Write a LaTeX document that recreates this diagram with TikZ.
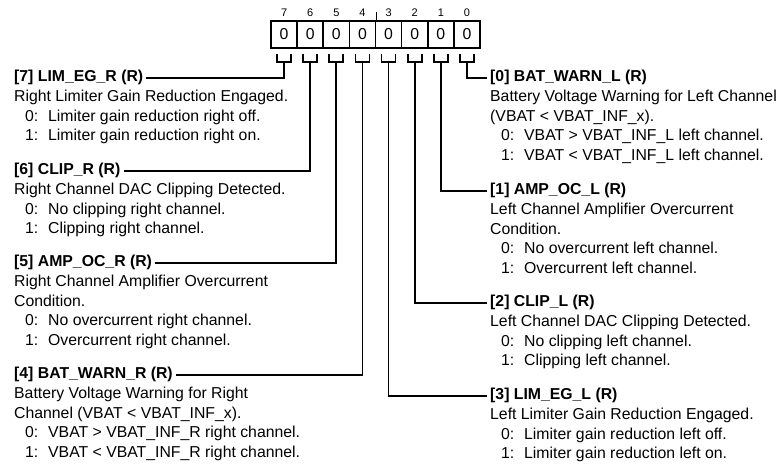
\documentclass[tikz,border=0pt]{standalone}
\usepackage{fontspec}
\setmainfont{Liberation Sans}

\newcommand\regbit[2]{\hspace*{11bp}\makebox[23bp][l]{#1:}#2}

\begin{document}
\begin{tikzpicture}[
  x=1bp, y=-1bp,
  font=\fontsize{15.8bp}{19.5bp}\selectfont,
  cell/.style={
    draw,
    rectangle,
    minimum width=26.125bp,
    minimum height=27bp,
    inner sep=0pt,
    line width=1.6bp,
    label={[bitno]above:#1}
  },
  bitno/.style={
    font=\fontsize{11bp}{13bp}\selectfont,
    inner sep=1bp,
    label distance=2bp
  },
  fieldname/.style={
    font=\fontsize{15.8bp}{19.5bp}\selectfont\bfseries,
    inner xsep=3bp,
    inner ysep=0pt,
    anchor=west
  },
  fielddesc/.style={
    inner sep=0pt,
    align=left,
    anchor=north west
  },
  wire/.style={line width=1.8bp},
  tick/.style={line width=1.2bp}
]
\useasboundingbox (0,0) rectangle (782,468);

% register cells, bit 7 on the left
\node[cell=7] (c7) at (284.06, 34.5) {0};
\node[cell=6] (c6) at (310.19, 34.5) {0};
\node[cell=5] (c5) at (336.31, 34.5) {0};
\node[cell=4] (c4) at (362.44, 34.5) {0};
\node[cell=3] (c3) at (388.56, 34.5) {0};
\node[cell=2] (c2) at (414.69, 34.5) {0};
\node[cell=1] (c1) at (440.81, 34.5) {0};
\node[cell=0] (c0) at (466.94, 34.5) {0};

\draw[tick] (c4.north east) -- ++(0,-8);

% left column
\node[fieldname] (h7) at (11, 78) {\strut[7] LIM\_EG\_R (R)};
\node[fielddesc] (d7) at ([xshift=3bp]h7.south west) {\strut Right Limiter Gain Reduction Engaged.\\
  \regbit{0}{Limiter gain reduction right off.}\\
  \regbit{1}{Limiter gain reduction right on.}};

\node[fieldname] (h6) at (11, 171) {\strut[6] CLIP\_R (R)};
\node[fielddesc] (d6) at ([xshift=3bp]h6.south west) {\strut Right Channel DAC Clipping Detected.\\
  \regbit{0}{No clipping right channel.}\\
  \regbit{1}{Clipping right channel.}};

\node[fieldname] (h5) at (11, 263) {\strut[5] AMP\_OC\_R (R)};
\node[fielddesc] (d5) at ([xshift=3bp]h5.south west) {\strut Right Channel Amplifier Overcurrent\\
  Condition.\\
  \regbit{0}{No overcurrent right channel.}\\
  \regbit{1}{Overcurrent right channel.}};

\node[fieldname] (h4) at (11, 375) {\strut[4] BAT\_WARN\_R (R)};
\node[fielddesc] (d4) at ([xshift=3bp]h4.south west) {\strut Battery Voltage Warning for Right\\
  Channel (VBAT < VBAT\_INF\_x).\\
  \regbit{0}{VBAT > VBAT\_INF\_R right channel.}\\
  \regbit{1}{VBAT < VBAT\_INF\_R right channel.}};

% right column
\node[fieldname] (h0) at (487, 78) {\strut[0] BAT\_WARN\_L (R)};
\node[fielddesc] (d0) at ([xshift=3bp]h0.south west) {\strut Battery Voltage Warning for Left Channel\\
  (VBAT < VBAT\_INF\_x).\\
  \regbit{0}{VBAT > VBAT\_INF\_L left channel.}\\
  \regbit{1}{VBAT < VBAT\_INF\_L left channel.}};

\node[fieldname] (h1) at (487, 191) {\strut[1] AMP\_OC\_L (R)};
\node[fielddesc] (d1) at ([xshift=3bp]h1.south west) {\strut Left Channel Amplifier Overcurrent\\
  Condition.\\
  \regbit{0}{No overcurrent left channel.}\\
  \regbit{1}{Overcurrent left channel.}};

\node[fieldname] (h2) at (487, 303) {\strut[2] CLIP\_L (R)};
\node[fielddesc] (d2) at ([xshift=3bp]h2.south west) {\strut Left Channel DAC Clipping Detected.\\
  \regbit{0}{No clipping left channel.}\\
  \regbit{1}{Clipping left channel.}};

\node[fieldname] (h3) at (487, 396) {\strut[3] LIM\_EG\_L (R)};
\node[fielddesc] (d3) at ([xshift=3bp]h3.south west) {\strut Left Limiter Gain Reduction Engaged.\\
  \regbit{0}{Limiter gain reduction left off.}\\
  \regbit{1}{Limiter gain reduction left on.}};

% brackets under the cells
\draw[wire] ([xshift=-7bp,yshift=-5bp]c7.south) -- ++(0,8) -- ++(14,0) -- ++(0,-8);
\draw[wire] ([xshift=-7bp,yshift=-5bp]c6.south) -- ++(0,8) -- ++(14,0) -- ++(0,-8);
\draw[wire] ([xshift=-7bp,yshift=-5bp]c5.south) -- ++(0,8) -- ++(14,0) -- ++(0,-8);
\draw[wire] ([xshift=-7bp,yshift=-5bp]c4.south) -- ++(0,8) -- ++(14,0) -- ++(0,-8);
\draw[wire] ([xshift=-7bp,yshift=-5bp]c3.south) -- ++(0,8) -- ++(14,0) -- ++(0,-8);
\draw[wire] ([xshift=-7bp,yshift=-5bp]c2.south) -- ++(0,8) -- ++(14,0) -- ++(0,-8);
\draw[wire] ([xshift=-7bp,yshift=-5bp]c1.south) -- ++(0,8) -- ++(14,0) -- ++(0,-8);
\draw[wire] ([xshift=-7bp,yshift=-5bp]c0.south) -- ++(0,8) -- ++(14,0) -- ++(0,-8);

% leads to the field names
\draw[wire] ([yshift=-13bp]c7.south) |- (h7.east);
\draw[wire] ([yshift=-13bp]c6.south) |- (h6.east);
\draw[wire] ([yshift=-13bp]c5.south) |- (h5.east);
\draw[wire] ([yshift=-13bp]c4.south) |- (h4.east);
\draw[wire] ([yshift=-13bp]c3.south) |- (h3.west);
\draw[wire] ([yshift=-13bp]c2.south) |- (h2.west);
\draw[wire] ([yshift=-13bp]c1.south) |- (h1.west);
\draw[wire] ([yshift=-13bp]c0.south) |- (h0.west);

\end{tikzpicture}
\end{document}
